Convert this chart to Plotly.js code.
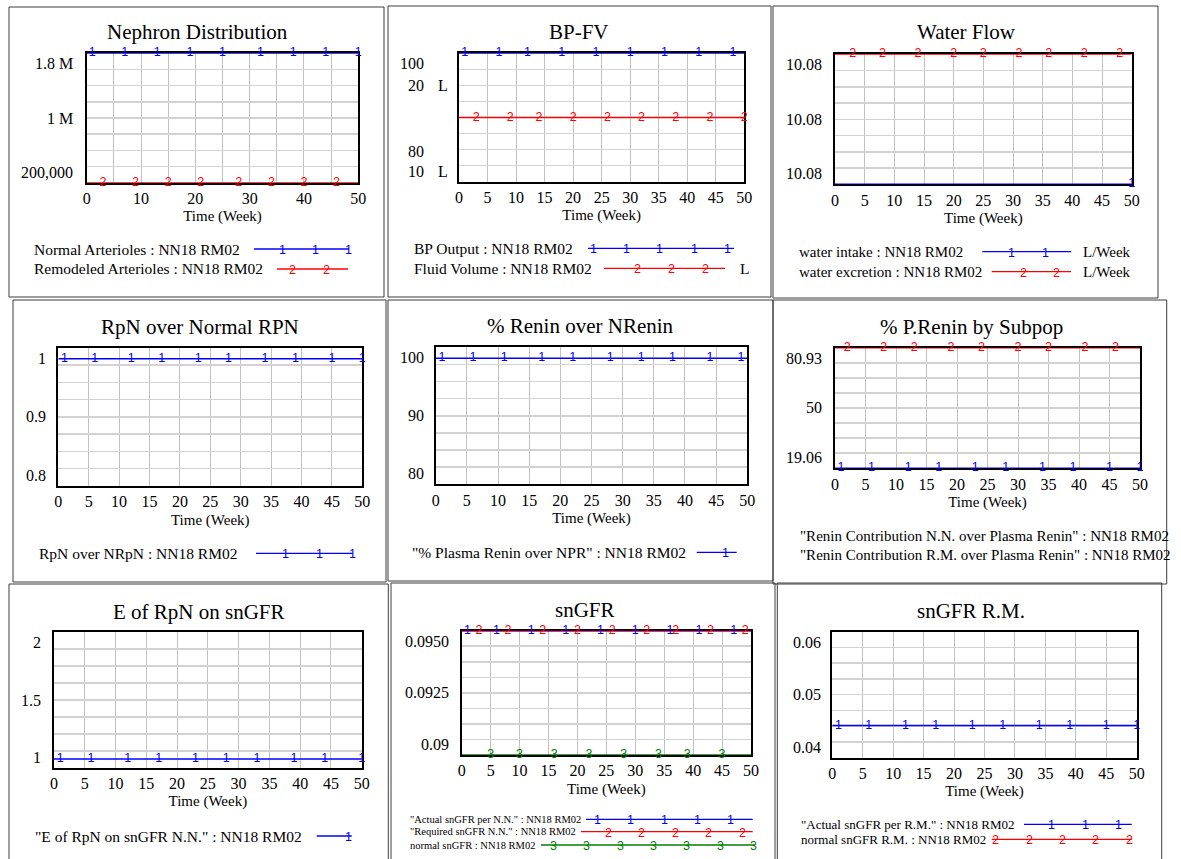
<!DOCTYPE html>
<html>
<head>
<meta charset="utf-8">
<script src="https://cdn.plot.ly/plotly-3.0.1.min.js"></script>
<style>
  html, body { margin: 0; padding: 0; background: #ffffff; }
  #chart { width: 1181px; height: 859px; }
</style>
</head>
<body>
<div id="chart"></div>
<script>
// ---------- simulation output (run "NN18 RM02"), time in weeks ----------
const weeks = [0, 50];

// Nephron Distribution
const normalArterioles = [1800000, 1800000];
const remodeledArterioles = [200000, 200000];
const normalArteriolesMarks = [1, 7, 13, 19, 25, 32, 38, 44, 50];
const remodeledArteriolesMarks = [3, 9, 15, 21, 28, 34, 40, 46];
const nephronRange = [200000, 1800000];
const nephronTickText = ['200,000', '1 M', '1.8 M'];
const nephronNames = ['Normal Arterioles : NN18 RM02', 'Remodeled Arterioles : NN18 RM02'];

// BP-FV
const bpOutput = [100, 100];
const fluidVolume = [15, 15];
const bpOutputMarks = [1, 7, 12, 18, 24, 30, 36, 42, 48];
const fluidVolumeMarks = [3, 9, 14, 20, 26, 32, 38, 44, 50];
const bpRange = [80, 100];
const fvRange = [10, 20];
const bpTickText = ['80', '100'];
const fvTickText = ['10', '20'];
const fvUnit = 'L';
const bpfvNames = ['BP Output : NN18 RM02', 'Fluid Volume : NN18 RM02'];

// Water Flow
const waterIntake = [10.0798, 10.0798];
const waterExcretion = [10.0802, 10.0802];
const waterIntakeMarks = [50];
const waterExcretionMarks = [3, 8, 14, 20, 25, 31, 36, 42, 48];
const waterRange = [10.0798, 10.0802];
const waterTickText = ['10.08', '10.08', '10.08'];
const waterUnit = 'L/Week';
const waterNames = ['water intake : NN18 RM02', 'water excretion : NN18 RM02'];

// RpN over Normal RPN
const rpnOverNrpn = [0.984, 0.984];
const rpnMarks = [1, 6, 12, 17, 23, 28, 34, 39, 45, 50];
const rpnRange = [0.8, 1];
const rpnTickText = ['0.8', '0.9', '1'];
const rpnNames = ['RpN over NRpN : NN18 RM02'];

// % Renin over NRenin
const plasmaReninOverNpr = [98.4, 98.4];
const reninMarks = [1, 6, 11, 17, 22, 28, 33, 38, 44, 49];
const reninRange = [80, 100];
const reninTickText = ['80', '90', '100'];
const reninNames = ['"% Plasma Renin over NPR" : NN18 RM02'];

// % P.Renin by Subpop
const reninContribNN = [19.06, 19.06];
const reninContribRM = [80.93, 80.93];
const reninContribNNMarks = [1, 6, 12, 17, 23, 28, 34, 39, 45, 50];
const reninContribRMMarks = [2, 8, 13, 19, 24, 30, 35, 41, 46];
const subpopRange = [19.06, 80.93];
const subpopTickText = ['19.06', '50', '80.93'];
const subpopNames = ['"Renin Contribution N.N. over Plasma Renin" : NN18 RM02',
                     '"Renin Contribution R.M. over Plasma Renin" : NN18 RM02'];

// E of RpN on snGFR
const eRpnSnGFR = [1.064, 1.064];
const eRpnMarks = [1, 6, 12, 17, 23, 28, 33, 39, 44, 50];
const eRpnRange = [1, 2];
const eRpnTickText = ['1', '1.5', '2'];
const eRpnNames = ['"E of RpN on snGFR N.N." : NN18 RM02'];

// snGFR
const actualSnGFRNN = [0.095, 0.095];
const requiredSnGFRNN = [0.095, 0.095];
const normalSnGFR = [0.09, 0.09];
const actualSnGFRNNMarks = [1, 6, 12, 18, 24, 30, 36, 41, 47];
const requiredSnGFRNNMarks = [3, 8, 14, 20, 26, 32, 37, 43, 49];
const normalSnGFRMarks = [5, 10, 16, 22, 28, 34, 39, 45];
const snGFRRange = [0.09, 0.095];
const snGFRTickText = ['0.09', '0.0925', '0.0950'];
const snGFRNames = ['"Actual snGFR per N.N." : NN18 RM02', '"Required snGFR N.N." : NN18 RM02',
                    'normal snGFR : NN18 RM02'];

// snGFR R.M.
const actualSnGFRRM = [0.0451, 0.0451];
const actualSnGFRRMMarks = [1, 6, 12, 17, 23, 28, 34, 39, 45, 50];
const snGFRRMRange = [0.04, 0.06];
const snGFRRMTickText = ['0.04', '0.05', '0.06'];
const snGFRRMNames = ['"Actual snGFR per R.M." : NN18 RM02', 'normal snGFR R.M. : NN18 RM02'];

// ---------- page geometry helpers ----------
const W = 1181, H = 859;
const px = x => x / W;
const py = y => 1 - y / H;
const SERIF = '"Liberation Serif", "Times New Roman", serif';
const SANS = '"Liberation Sans", Arial, sans-serif';
const BLUE = '#0000ff', RED = '#ff0000', GREEN = '#008000';
const DIGIT_SIZE = 12.5;

// each panel: frame box, plot area (pixels), title position, scale, series, legend rows
const panels = [
  {
    title: 'Nephron Distribution', box: [9, 7, 384, 297], plot: [86.7, 53.3, 358.3, 182.7],
    titleXY: [197, 32], xStep: 10, yRange: nephronRange, yLabels: nephronTickText, yLabelRight: 75,
    series: [
      { y: normalArterioles, marks: normalArteriolesMarks, color: BLUE, digit: '1' },
      { y: remodeledArterioles, marks: remodeledArteriolesMarks, color: RED, digit: '2' }
    ],
    legendFont: 15.5,
    legend: [
      { y: 249, x: 32, text: nephronNames[0], color: BLUE, digit: '1', line: [254, 349], digits: [282, 315, 348] },
      { y: 269, x: 32, text: nephronNames[1], color: RED, digit: '2', line: [277, 348], digits: [292, 326] }
    ]
  },
  {
    title: 'BP-FV', box: [388, 6, 771, 297], plot: [459, 53.3, 744.3, 181.7],
    titleXY: [579, 32], xStep: 5, yRange: bpRange, yLabels: null, yLabelRight: 426,
    series: [
      { y: bpOutput, marks: bpOutputMarks, color: BLUE, digit: '1' },
      { y: fluidVolume, marks: fluidVolumeMarks, color: RED, digit: '2', secondary: true }
    ],
    legendFont: 15.5,
    legend: [
      { y: 248.3, x: 412, text: bpfvNames[0], color: BLUE, digit: '1', line: [588, 734], digits: [593, 626.7, 660, 694, 727.3] },
      { y: 268.3, x: 412, text: bpfvNames[1], color: RED, digit: '2', line: [604, 725], digits: [637.3, 671, 705], unit: fvUnit, unitX: 738 }
    ]
  },
  {
    title: 'Water Flow', box: [773, 6, 1158, 298], plot: [835, 54.3, 1131.7, 184.3],
    titleXY: [966.7, 32], xStep: 5, yRange: waterRange, yLabels: waterTickText, yLabelRight: 824,
    series: [
      { y: waterIntake, marks: waterIntakeMarks, color: BLUE, digit: '1' },
      { y: waterExcretion, marks: waterExcretionMarks, color: RED, digit: '2' }
    ],
    legendFont: 15,
    legend: [
      { y: 251.7, x: 797, text: waterNames[0], color: BLUE, digit: '1', line: [982.3, 1071], digits: [1011.7, 1045.7], unit: waterUnit, unitX: 1081 },
      { y: 271.7, x: 797, text: waterNames[1], color: RED, digit: '2', line: [991.7, 1071], digits: [1023, 1056], unit: waterUnit, unitX: 1081 }
    ]
  },
  {
    title: 'RpN over Normal RPN', box: [13, 300, 386, 582], plot: [58.3, 347.7, 362.3, 486],
    titleXY: [200, 326.7], xStep: 5, yRange: rpnRange, yLabels: rpnTickText, yLabelRight: 48,
    series: [
      { y: rpnOverNrpn, marks: rpnMarks, color: BLUE, digit: '1' }
    ],
    legendFont: 15.5,
    legend: [
      { y: 553.3, x: 37, text: rpnNames[0], color: BLUE, digit: '1', line: [256, 352.7], digits: [285.7, 319, 352.3] }
    ]
  },
  {
    title: '% Renin over NRenin', box: [388, 300, 773, 581], plot: [435.7, 347.3, 747.3, 484.3],
    titleXY: [580.7, 326], xStep: 5, yRange: reninRange, yLabels: reninTickText, yLabelRight: 425.5,
    series: [
      { y: plasmaReninOverNpr, marks: reninMarks, color: BLUE, digit: '1' }
    ],
    legendFont: 15.5,
    legend: [
      { y: 552.3, x: 409.7, text: reninNames[0], color: BLUE, digit: '1', line: [696.7, 736.7], digits: [725.7] }
    ]
  },
  {
    title: '% P.Renin by Subpop', box: [773, 300, 1166.7, 584], plot: [835, 347.7, 1140, 468.3],
    titleXY: [971, 326.7], xStep: 5, yRange: subpopRange, yLabels: subpopTickText, yLabelRight: 824,
    series: [
      { y: reninContribNN, marks: reninContribNNMarks, color: BLUE, digit: '1' },
      { y: reninContribRM, marks: reninContribRMMarks, color: RED, digit: '2' }
    ],
    legendFont: 15,
    legend: [
      { y: 536, x: 798, text: subpopNames[0] },
      { y: 555, x: 798, text: subpopNames[1] }
    ]
  },
  {
    title: 'E of RpN on snGFR', box: [9, 584, 388.3, 862], plot: [54, 632.3, 361.7, 767.7],
    titleXY: [199, 611.7], xStep: 5, yRange: eRpnRange, yLabels: eRpnTickText, yLabelRight: 43,
    series: [
      { y: eRpnSnGFR, marks: eRpnMarks, color: BLUE, digit: '1' }
    ],
    legendFont: 15.5,
    legend: [
      { y: 836, x: 33, text: eRpnNames[0], color: BLUE, digit: '1', line: [316.7, 351.7], digits: [348.3] }
    ]
  },
  {
    title: 'snGFR', box: [391, 583, 775, 862], plot: [461.7, 630.7, 751, 755],
    titleXY: [585, 610], xStep: 5, yRange: snGFRRange, yLabels: snGFRTickText, yLabelRight: 450.5,
    series: [
      { y: actualSnGFRNN, marks: actualSnGFRNNMarks, color: BLUE, digit: '1' },
      { y: requiredSnGFRNN, marks: requiredSnGFRNNMarks, color: RED, digit: '2' },
      { y: normalSnGFR, marks: normalSnGFRMarks, color: GREEN, digit: '3' }
    ],
    legendFont: 10.5,
    legend: [
      { y: 819.3, x: 408, text: snGFRNames[0], color: BLUE, digit: '1', line: [586, 752.7], digits: [597.3, 630.7, 664.3, 697.3, 730.7] },
      { y: 831.7, x: 408, text: snGFRNames[1], color: RED, digit: '2', line: [581, 752.7], digits: [608.3, 641.7, 675, 708.3, 742.3] },
      { y: 845, x: 408, text: snGFRNames[2], color: GREEN, digit: '3', line: [541, 755], digits: [553.3, 586.7, 620, 653.3, 686.7, 720, 753.3] }
    ]
  },
  {
    title: 'snGFR R.M.', box: [777.3, 583, 1161.7, 862], plot: [832.3, 631.7, 1136.7, 757.7],
    titleXY: [971, 610.7], xStep: 5, yRange: snGFRRMRange, yLabels: snGFRRMTickText, yLabelRight: 823,
    series: [
      { y: actualSnGFRRM, marks: actualSnGFRRMMarks, color: BLUE, digit: '1' }
    ],
    legendFont: 13,
    legend: [
      { y: 824.3, x: 799, text: snGFRRMNames[0], color: BLUE, digit: '1', line: [1024, 1131.7], digits: [1051.7, 1085, 1118.3] },
      { y: 839.3, x: 799, text: snGFRRMNames[1], color: RED, digit: '2', line: [991.7, 1131.7], digits: [995.7, 1029, 1062.3, 1095.7, 1129] }
    ]
  }
];

const traces = [];
const annotations = [];
const shapes = [];
const layout = {
  width: W, height: H,
  margin: { l: 0, r: 0, t: 0, b: 0 },
  paper_bgcolor: '#ffffff', plot_bgcolor: '#ffffff',
  showlegend: false,
  font: { family: SERIF, color: '#000000' }
};

const yAnchors = ['bottom', 'middle', 'top'];

panels.forEach((p, k) => {
  const n = k + 1;
  const xId = n === 1 ? 'x' : 'x' + n;
  const yId = n === 1 ? 'y' : 'y' + n;
  const xKey = n === 1 ? 'xaxis' : 'xaxis' + n;
  const yKey = n === 1 ? 'yaxis' : 'yaxis' + n;
  const [l, t, r, b] = p.plot;

  layout[xKey] = {
    domain: [px(l), px(r)], anchor: yId, range: [0, 50],
    tickmode: 'linear', tick0: 0, dtick: p.xStep, ticks: '',
    showgrid: true, gridcolor: '#c2c2c2', gridwidth: 1,
    minor: p.xStep === 10 ? { tickmode: 'linear', tick0: 0, dtick: 5, showgrid: true, gridcolor: '#c2c2c2', gridwidth: 1, ticks: '' } : undefined,
    zeroline: false, showline: true, mirror: true, linecolor: '#000000', linewidth: 2,
    layer: 'below traces', fixedrange: true,
    tickfont: { family: SERIF, size: 16, color: '#000000' },
    title: { text: 'Time (Week)', font: { family: SERIF, size: 15, color: '#000000' }, standoff: 5 }
  };
  layout[yKey] = {
    domain: [py(b), py(t)], anchor: xId, range: p.yRange,
    tickmode: 'linear', tick0: p.yRange[0], dtick: (p.yRange[1] - p.yRange[0]) / 8, ticks: '',
    showticklabels: false, showgrid: true, gridcolor: '#d2d2d2', gridwidth: 1.5,
    zeroline: false, showline: true, mirror: true, linecolor: '#000000', linewidth: 2,
    layer: 'below traces', fixedrange: true
  };

  // secondary scale (Fluid Volume) shares the BP-FV plot area
  let y2Id = null;
  if (p.series.some(s => s.secondary)) {
    y2Id = 'y10';
    layout.yaxis10 = {
      overlaying: yId, anchor: xId, side: 'left', range: fvRange,
      showgrid: false, showticklabels: false, showline: false, zeroline: false, ticks: '', fixedrange: true
    };
  }

  // panel frame
  shapes.push({ type: 'rect', xref: 'paper', yref: 'paper',
    x0: px(p.box[0]), x1: px(p.box[2]), y0: py(p.box[3]), y1: py(p.box[1]),
    line: { color: '#3c3c3c', width: 1 }, fillcolor: 'rgba(0,0,0,0)', layer: 'below' });

  // panel title
  annotations.push({ xref: 'paper', yref: 'paper', x: px(p.titleXY[0]), y: py(p.titleXY[1]),
    xanchor: 'center', yanchor: 'middle', showarrow: false, text: p.title,
    font: { family: SERIF, size: 21, color: '#000000' } });

  // series lines and their numbered markers
  p.series.forEach(s => {
    const ya = s.secondary ? y2Id : yId;
    traces.push({ type: 'scatter', mode: 'lines', x: weeks, y: s.y, xaxis: xId, yaxis: ya,
      line: { color: s.color, width: 1.5 }, hoverinfo: 'skip' });
    traces.push({ type: 'scatter', mode: 'text', x: s.marks, y: s.marks.map(() => s.y[0]),
      xaxis: xId, yaxis: ya, text: s.marks.map(() => s.digit), textposition: 'middle center',
      textfont: { family: SANS, size: DIGIT_SIZE, color: s.color }, cliponaxis: false, hoverinfo: 'skip' });
  });

  // vertical scale labels: min at the bottom edge, mid, max at the top edge
  if (p.yLabels) {
    const [r0, r1] = p.yRange;
    [r0, (r0 + r1) / 2, r1].forEach((v, i) => {
      annotations.push({ xref: 'paper', yref: yId, x: px(p.yLabelRight), y: v,
        xanchor: 'right', yanchor: yAnchors[i], showarrow: false, text: p.yLabels[i],
        font: { family: SERIF, size: 16, color: '#000000' } });
    });
  } else {
    // stacked labels for the two scales of BP-FV
    const lab = (text, yref, v, anchor, shift, right) => annotations.push({
      xref: 'paper', yref: yref, x: px(right), y: v, xanchor: 'right', yanchor: anchor, yshift: shift,
      showarrow: false, text: text, font: { family: SERIF, size: 16, color: '#000000' } });
    lab(bpTickText[1], yId, bpRange[1], 'top', 0, p.yLabelRight);
    lab(bpTickText[0], yId, bpRange[0], 'bottom', 20, p.yLabelRight);
    lab(fvTickText[1], y2Id, fvRange[1], 'top', -22, p.yLabelRight);
    lab(fvTickText[0], y2Id, fvRange[0], 'bottom', 0, p.yLabelRight);
    [[fvRange[1], 'top', -22], [fvRange[0], 'bottom', 0]].forEach(([v, a, sh]) => annotations.push({
      xref: 'paper', yref: y2Id, x: px(436), y: v, xanchor: 'left', yanchor: a, yshift: sh,
      showarrow: false, text: fvUnit, font: { family: SERIF, size: 16, color: '#000000' } }));
  }

  // legend rows: name, sample line with its digits, unit
  p.legend.forEach(row => {
    annotations.push({ xref: 'paper', yref: 'paper', x: px(row.x), y: py(row.y),
      xanchor: 'left', yanchor: 'middle', showarrow: false, text: row.text,
      font: { family: SERIF, size: p.legendFont, color: '#000000' } });
    if (row.line) {
      shapes.push({ type: 'line', xref: 'paper', yref: 'paper',
        x0: px(row.line[0]), x1: px(row.line[1]), y0: py(row.y), y1: py(row.y),
        line: { color: row.color, width: 1.3 } });
      row.digits.forEach(dx => annotations.push({ xref: 'paper', yref: 'paper', x: px(dx), y: py(row.y + 1),
        xanchor: 'center', yanchor: 'middle', showarrow: false, text: row.digit,
        font: { family: SANS, size: DIGIT_SIZE, color: row.color } }));
    }
    if (row.unit) {
      annotations.push({ xref: 'paper', yref: 'paper', x: px(row.unitX), y: py(row.y),
        xanchor: 'left', yanchor: 'middle', showarrow: false, text: row.unit,
        font: { family: SERIF, size: p.legendFont, color: '#000000' } });
    }
  });
});

layout.annotations = annotations;
layout.shapes = shapes;

Plotly.newPlot('chart', traces, layout, { displayModeBar: false, staticPlot: true });
</script>
</body>
</html>
